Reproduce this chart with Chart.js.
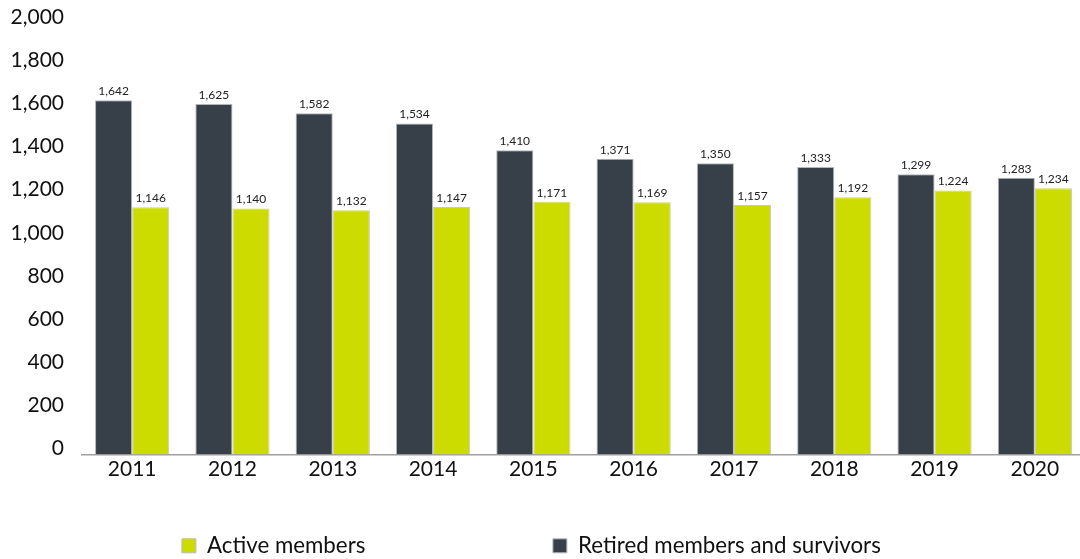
<!DOCTYPE html>
<html>
<head>
<meta charset="utf-8">
<script src="https://cdn.jsdelivr.net/npm/chart.js@4/dist/chart.umd.min.js"></script>
<style>
  html, body { margin: 0; padding: 0; background: #fff; overflow: hidden; }
  #wrap { width: 1080px; height: 559px; overflow: hidden; }
</style>
</head>
<body>
<div id="wrap"><canvas id="c" width="1085" height="567"></canvas></div>
<script>
const years = ['2011','2012','2013','2014','2015','2016','2017','2018','2019','2020'];
const retired = [1642,1625,1582,1534,1410,1371,1350,1333,1299,1283];
const active = [1146,1140,1132,1147,1171,1169,1157,1192,1224,1234];
const seriesNames = ['Retired members and survivors', 'Active members'];
const yMax = 2000;
const yStep = 200;

const DARK = 'rgb(55,64,72)';
const YELLOW = 'rgb(205,220,0)';
const FONT = 'Lato';

const fmt = v => v.toLocaleString('en-US');

const valueLabels = {
  id: 'valueLabels',
  afterDatasetsDraw(chart) {
    const ctx = chart.ctx;
    ctx.save();
    ctx.font = '12px ' + FONT;
    ctx.fillStyle = '#222';
    ctx.textAlign = 'center';
    ctx.textBaseline = 'bottom';
    chart.data.datasets.forEach((ds, i) => {
      chart.getDatasetMeta(i).data.forEach((el, j) => {
        ctx.fillText(fmt(ds.data[j]), el.x, el.y - 3);
      });
    });
    ctx.restore();
  }
};

new Chart(document.getElementById('c'), {
  type: 'bar',
  data: {
    labels: years,
    datasets: [
      { label: seriesNames[0], data: retired, backgroundColor: DARK, borderColor: '#b5b5b5', borderWidth: 1 },
      { label: seriesNames[1], data: active, backgroundColor: YELLOW, borderColor: '#c8c8c8', borderWidth: 1 }
    ]
  },
  options: {
    responsive: false,
    animation: false,
    layout: { padding: { top: 23, left: 0, right: 0, bottom: 0 } },
    datasets: { bar: { categoryPercentage: 0.74, barPercentage: 1.0 } },
    scales: {
      x: {
        grid: { display: false, drawTicks: false },
        border: { display: true, color: '#a0a0a0', width: 1.5 },
        ticks: { color: '#111', font: { family: FONT, size: 21 }, padding: 2 }
      },
      y: {
        min: 0, max: yMax,
        grid: { display: false, drawTicks: false },
        border: { display: false },
        ticks: { stepSize: yStep, color: '#111', font: { family: FONT, size: 21 }, padding: 18,
                 labelOffset: -6, callback: v => fmt(v) },
        afterFit: s => { s.width = 82; s.paddingTop = 0; s.paddingBottom = 0; }
      }
    },
    plugins: {
      tooltip: { enabled: false },
      legend: {
        position: 'bottom',
        reverse: true,
        labels: {
          color: '#111',
          font: { family: FONT, size: 22.3 },
          boxWidth: 14, boxHeight: 14,
          padding: 51,
          generateLabels(chart) {
            const items = Chart.defaults.plugins.legend.labels.generateLabels(chart);
            items.forEach(it => {
              it.lineWidth = 1;
              it.strokeStyle = '#bbb';
              if (it.datasetIndex === 1) it.text = it.text + '\u2003\u2003\u2003\u2003\u2003\u2003\u2003\u2003\u2009';
              else it.text = it.text + '\u2003\u2009\u2009';
            });
            return items;
          }
        }
      }
    }
  },
  plugins: [valueLabels]
});
</script>
</body>
</html>
